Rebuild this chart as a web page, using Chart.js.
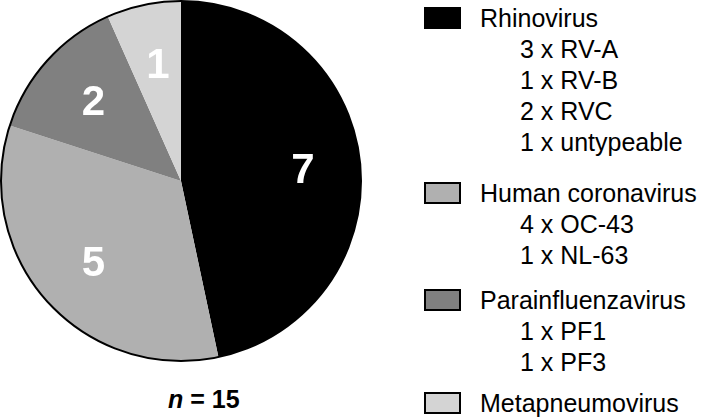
<!DOCTYPE html>
<html>
<head>
<meta charset="utf-8">
<script src="https://cdn.jsdelivr.net/npm/chart.js@4"></script>
<style>
  body { margin: 0; background: #fff; font-family: "Liberation Sans", Arial, sans-serif; }
  #wrap { position: relative; width: 709px; height: 420px; }
  #pieBox { position: absolute; left: 0; top: 0; width: 362px; height: 362px; }
  #nlabel { position: absolute; left: 168px; top: 384px; font-weight: bold; font-size: 25px; line-height: 30px; color: #000; white-space: nowrap; }
  #legend { position: absolute; left: 0; top: 0; }
  .sw { position: absolute; left: 424px; width: 33px; height: 18px; border: 2px solid #000; }
  .hd, .sub { position: absolute; font-size: 25px; line-height: 30px; color: #000; white-space: nowrap; }
  .hd { left: 480px; }
  .sub { left: 520px; }
</style>
</head>
<body>
<div id="wrap">
  <div id="pieBox"><canvas id="myChart"></canvas></div>
  <div id="nlabel"><i>n</i> = 15</div>
  <div id="legend"></div>
</div>
<script>
const labels = ['Rhinovirus', 'Human coronavirus', 'Parainfluenzavirus', 'Metapneumovirus']
const counts = [7, 5, 2, 1]
const colors = ['#000000', '#b0b0b0', '#808080', '#d4d4d4']
const subtypes = [
  ['3 x RV-A', '1 x RV-B', '2 x RVC', '1 x untypeable'],
  ['4 x OC-43', '1 x NL-63'],
  ['1 x PF1', '1 x PF3'],
  []
]

// legend rows, y = centre of the header line
const headY = [18, 193, 300, 403]
const subStep = 31

let legend = document.querySelector('#legend')
labels.forEach((name, i) => {
  let y = headY[i]
  let sw = document.createElement('div')
  sw.className = 'sw'
  sw.style.top = (y - 11) + 'px'
  sw.style.background = colors[i]
  legend.append(sw)

  let hd = document.createElement('div')
  hd.className = 'hd'
  hd.style.top = (y - 15) + 'px'
  hd.textContent = name
  legend.append(hd)

  subtypes[i].forEach((s, j) => {
    let d = document.createElement('div')
    d.className = 'sub'
    d.style.top = (y - 15 + subStep * (j + 1)) + 'px'
    d.textContent = s
    legend.append(d)
  })
})

const outline = {
  id: 'outline',
  afterDatasetsDraw(chart) {
    const arc = chart.getDatasetMeta(0).data[0]
    const c = chart.ctx
    c.save()
    c.beginPath()
    c.arc(arc.x, arc.y, arc.outerRadius, 0, Math.PI * 2)
    c.lineWidth = 2
    c.strokeStyle = '#000'
    c.stroke()

    // count inside each slice
    c.fillStyle = '#fff'
    c.font = 'bold 42px "Liberation Sans", Arial, sans-serif'
    c.textAlign = 'center'
    c.textBaseline = 'middle'
    chart.getDatasetMeta(0).data.forEach((el, i) => {
      const mid = (el.startAngle + el.endAngle) / 2
      const r = el.outerRadius * 0.67
      c.fillText(counts[i], el.x + Math.cos(mid) * r + 2, el.y + Math.sin(mid) * r + 3)
    })
    c.restore()
  }
}

const ctx = document.getElementById('myChart')
new Chart(ctx, {
  type: 'pie',
  data: {
    labels: labels,
    datasets: [{
      data: counts,
      backgroundColor: colors,
      borderWidth: 0,
      hoverOffset: 0
    }]
  },
  options: {
    responsive: true,
    maintainAspectRatio: false,
    animation: false,
    layout: { padding: 1 },
    plugins: {
      legend: { display: false },
      tooltip: { enabled: false }
    }
  },
  plugins: [outline]
})
</script>
</body>
</html>
